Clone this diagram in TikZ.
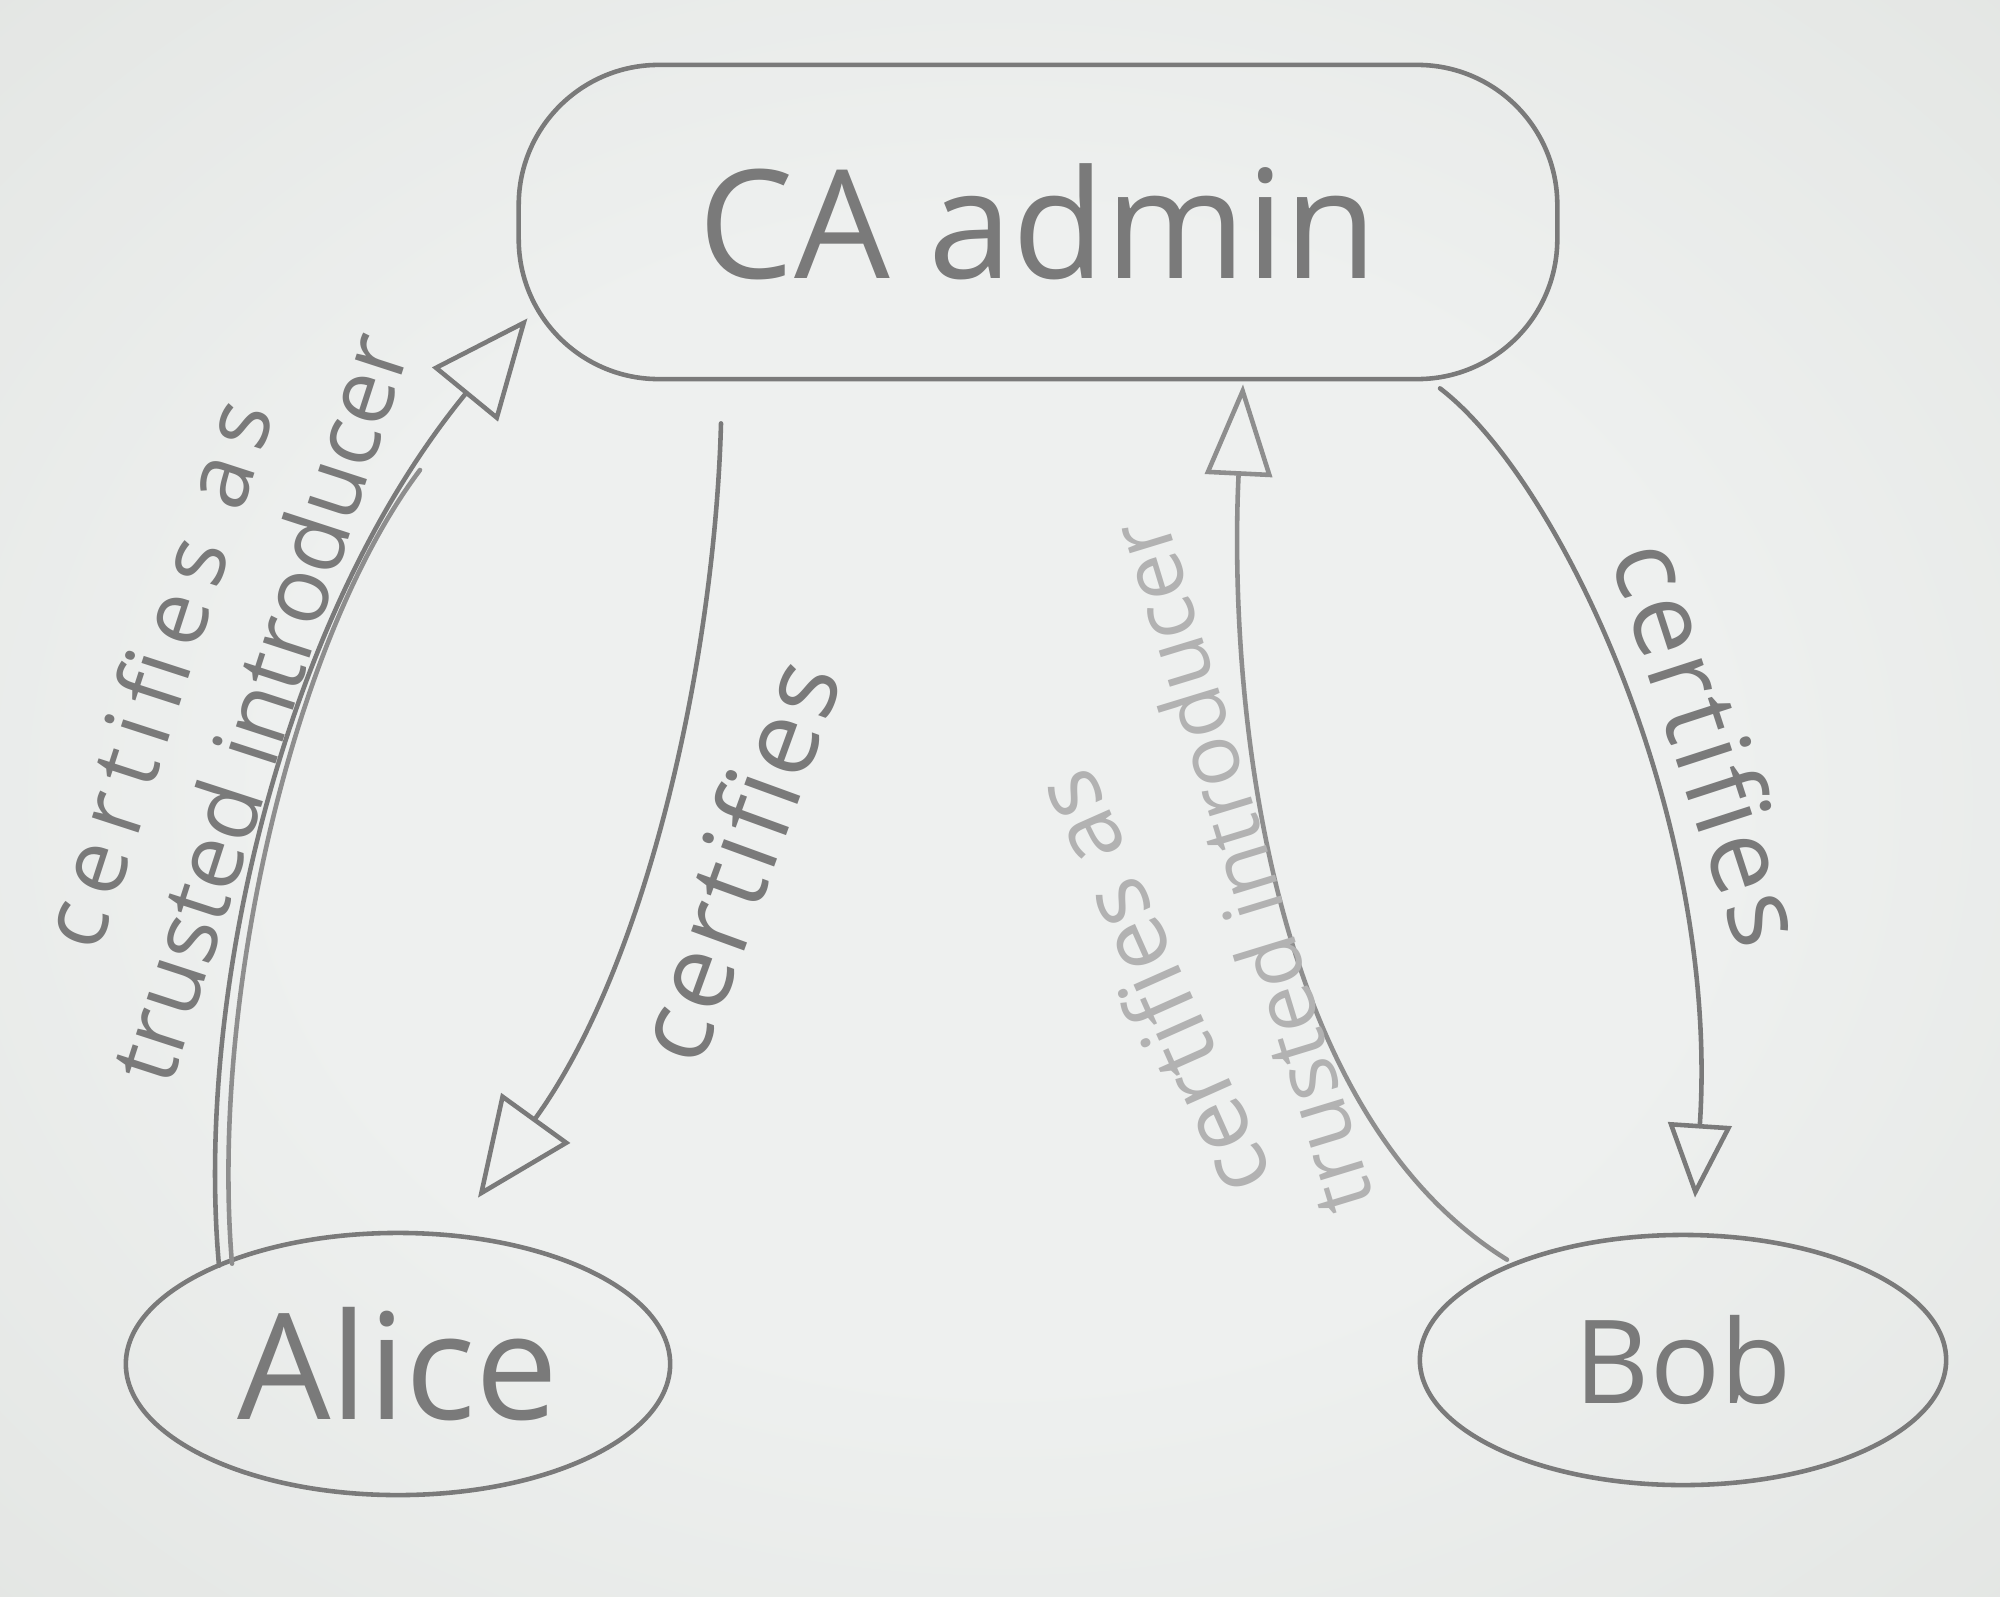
\documentclass[tikz,border=0pt]{standalone}
\usepackage{fontspec}
\setmainfont{Open Sans}
\usetikzlibrary{arrows.meta,shapes.geometric,calc}
\definecolor{paperin}{HTML}{EEF0EF}
\definecolor{paperout}{HTML}{CFD2CD}
\definecolor{pencil}{HTML}{7A7A7A}
\definecolor{pencillight}{HTML}{8E8E8E}
\definecolor{pencilfaint}{HTML}{B2B2B2}
\pgfdeclareradialshading{paper}{\pgfpoint{0bp}{0bp}}{color(0bp)=(paperin); color(18bp)=(paperin); color(72bp)=(paperout)}
\tikzset{
  pencilline/.style={draw=pencil, line width=1.3pt, line cap=round, line join=round},
  blob/.style={pencilline, inner sep=0pt, text=pencil},
  lbl/.style={text=pencil, inner sep=0pt, font=\fontsize{26}{31}\selectfont},
  bigtip/.style={-{Triangle[open, length=28pt, width=24pt]}},
  midtip/.style={-{Triangle[open, length=26pt, width=19pt]}},
  smalltip/.style={-{Triangle[open, length=21pt, width=18pt]}}
}
\begin{document}
\begin{tikzpicture}[x=0.01cm, y=-0.01cm]
\useasboundingbox (0,0) rectangle (2000,1597);
\shade[shading=paper] (0,0) rectangle (2000,1597);

% nodes
\node[blob, rectangle, rounded corners=1.4cm, minimum width=10.38cm, minimum height=3.14cm,
      font=\fontsize{43}{50}\selectfont] (ca) at (1038,222) {CA admin};
\node[blob, ellipse, minimum width=5.44cm, minimum height=2.62cm,
      font=\fontsize{42}{48}\selectfont] (alice) at (398,1364) {Alice};
\node[blob, ellipse, minimum width=5.26cm, minimum height=2.5cm,
      font=\fontsize{33}{40}\selectfont] (bob) at (1683,1360) {Bob};

% connectors
\draw[pencilline, draw=pencillight] ($(alice.north)+(-166,33)$)
   .. controls (210,1000) and (292,640) .. (420,470);
\draw[pencilline, bigtip] ($(alice.north)+(-179,35)$)
   .. controls (195,1000) and (280,620) .. ($(ca.south west)+(11,-63)$);
\draw[pencilline, bigtip] ($(ca.south)+(-317,42)$)
   .. controls (715,650) and (650,960) .. ($(alice.north)+(80,-33)$);
\draw[pencilline, draw=pencillight, midtip] ($(bob.north)+(-176,27)$)
   .. controls (1250,1100) and (1230,650) .. ($(ca.south)+(205,3)$);
\draw[pencilline, smalltip] ($(ca.south)+(402,7)$)
   .. controls (1560,480) and (1720,820) .. ($(bob.north)+(12,-35)$);

% labels
\node[lbl, rotate=72, align=center] (lblat) at (206,690)
   {{\addfontfeature{LetterSpace=14}certifies as}\\trusted introducer};
\node[lbl, rotate=70, font=\fontsize{30}{34}\selectfont] (lblac) at (735,860)
   {\addfontfeature{LetterSpace=4}certifies};
\node[lbl, text=pencilfaint, rotate=114] (lblbt) at (1150,985) {certifies as};
\node[lbl, text=pencilfaint, rotate=107, font=\fontsize{24}{28}\selectfont] (lblbi) at (1240,868) {trusted introducer};
\node[lbl, rotate=-72, font=\fontsize{30}{34}\selectfont] (lblbc) at (1712,742)
   {\addfontfeature{LetterSpace=4}certifies};
\end{tikzpicture}
\end{document}
